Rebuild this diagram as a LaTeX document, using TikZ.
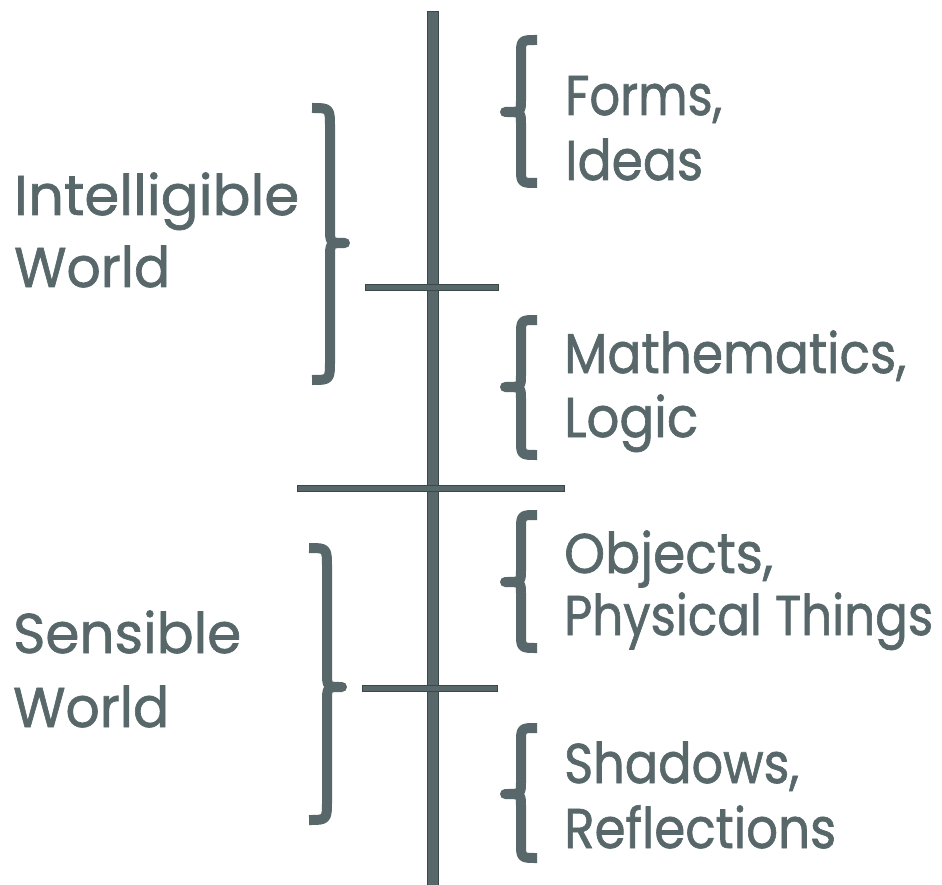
\documentclass[tikz,border=0pt]{standalone}
\usepackage{fontspec}
\usepackage{graphicx}
\setmainfont{Poppins}[FakeBold=1.2,BoldFont=Poppins]
\definecolor{ink}{RGB}{88,104,106}
\definecolor{edge}{RGB}{58,72,74}
\newcommand\fitw[2]{\resizebox{#1pt}{\height}{#2}}
\tikzset{
  bar/.style={draw=edge, fill=ink, line width=1pt},
  brace/.style={draw=ink, line width=10pt, line cap=butt, line join=round},
  lbl/.style={anchor=base west, inner sep=0pt, text=ink, font=\fontsize{56}{60}\selectfont\bfseries},
}
\begin{document}
\begin{tikzpicture}[x=1pt,y=-1pt]
\useasboundingbox (0,0) rectangle (942,885);
% vertical axis
\fill[bar] (427,12) rectangle (438,885);
% horizontal dividers
\fill[bar] (365,285) rectangle (498,291);
\fill[bar] (297,485) rectangle (564,491);
\fill[bar] (362,685) rectangle (497,691);
% left braces
\draw[brace] (312,108) .. controls (330,108) .. (330,128) -- (330,228) .. controls (330,243) .. (345,243)
  .. controls (330,243) .. (330,258) -- (330,360) .. controls (330,380) .. (312,380);
\draw[brace] (309,548) .. controls (327,548) .. (327,568) -- (327,672) .. controls (327,687) .. (342,687)
  .. controls (327,687) .. (327,702) -- (327,800) .. controls (327,820) .. (309,820);
% right braces
\foreach \yt/\ym/\yb in {40/112/183, 320/387/455, 515/582/648, 728/794/858}{
  \draw[brace] (537,\yt) .. controls (521,\yt) .. (521,\yt+15) -- (521,\ym-12) .. controls (521,\ym) .. (505,\ym)
    .. controls (521,\ym) .. (521,\ym+12) -- (521,\yb-15) .. controls (521,\yb) .. (537,\yb);
}
% labels
\node[lbl] (forms) at (565,115) {\fitw{157}{Forms,}};
\node[lbl] (ideas) at (565,180) {\fitw{138}{Ideas}};
\node[lbl] (math) at (564,373) {\fitw{342}{Mathematics,}};
\node[lbl] (logic) at (564,437) {\fitw{134}{Logic}};
\node[lbl] (obj) at (564,573) {\fitw{209}{Objects,}};
\node[lbl] (phys) at (564,635) {\fitw{369}{Physical Things}};
\node[lbl] (shad) at (564,783) {\fitw{235}{Shadows,}};
\node[lbl] (refl) at (564,848) {\fitw{272}{Reflections}};
\node[lbl] (intel) at (14,215) {\fitw{285}{Intelligible}};
\node[lbl] (world1) at (14,287) {\fitw{156}{World}};
\node[lbl] (sens) at (13,653) {\fitw{228}{Sensible}};
\node[lbl] (world2) at (13,727) {\fitw{156}{World}};
\end{tikzpicture}
\end{document}
